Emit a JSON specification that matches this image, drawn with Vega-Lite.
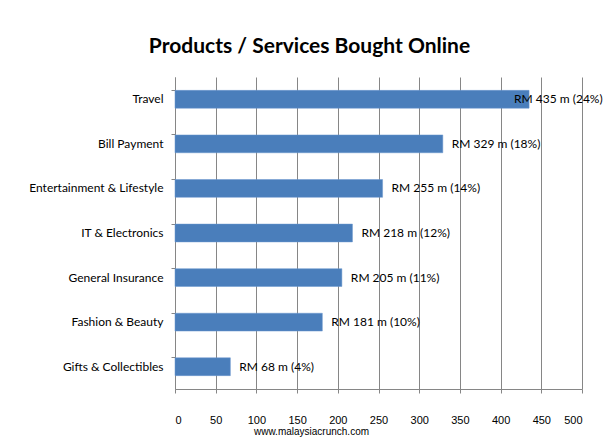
{
  "$schema": "https://vega.github.io/schema/vega-lite/v6.json",
  "width": 407,
  "height": 312,
  "autosize": {"type": "none"},
  "padding": {"left": 175, "top": 77, "right": 25, "bottom": 50},
  "background": "white",
  "title": {
    "text": "Products / Services Bought Online",
    "anchor": "middle",
    "frame": "group",
    "dx": -69,
    "offset": 20,
    "font": "Lato",
    "fontSize": 21,
    "fontWeight": "bold",
    "color": "#000000"
  },
  "data": {
    "values": [
      {"category": "Travel", "value": 435, "label": "RM 435 m (24%)"},
      {"category": "Bill Payment", "value": 329, "label": "RM 329 m (18%)"},
      {"category": "Entertainment & Lifestyle", "value": 255, "label": "RM 255 m (14%)"},
      {"category": "IT & Electronics", "value": 218, "label": "RM 218 m (12%)"},
      {"category": "General Insurance", "value": 205, "label": "RM 205 m (11%)"},
      {"category": "Fashion & Beauty", "value": 181, "label": "RM 181 m (10%)"},
      {"category": "Gifts & Collectibles", "value": 68, "label": "RM 68 m (4%)"}
    ]
  },
  "encoding": {
    "y": {
      "field": "category",
      "type": "nominal",
      "sort": null,
      "scale": {"paddingInner": 0.6, "paddingOuter": 0.3},
      "axis": {
        "title": null,
        "bandPosition": 0,
        "tickSize": 4,
        "tickColor": "#868686",
        "domainColor": "#868686",
        "labelPadding": 8,
        "labelFont": "Lato",
        "labelFontSize": 12,
        "labelColor": "#000000",
        "grid": false
      }
    },
    "x": {
      "field": "value",
      "type": "quantitative",
      "scale": {"domain": [0, 500], "nice": false},
      "axis": {
        "values": [0, 50, 100, 150, 200, 250, 300, 350, 400, 450, 500],
        "title": "www.malaysiacrunch.com",
        "titleX": 136,
        "titleY": 45,
        "titleBaseline": "alphabetic",
        "titleFont": "Liberation Sans",
        "titleFontSize": 10,
        "titleFontWeight": "normal",
        "titleColor": "#000000",
        "tickSize": 4,
        "tickColor": "#868686",
        "domainColor": "#868686",
        "grid": true,
        "gridColor": "#868686",
        "gridOpacity": 1,
        "labelPadding": 21,
        "labelFont": "Liberation Sans",
        "labelFontSize": 11,
        "labelColor": "#000000"
      }
    }
  },
  "layer": [
    {
      "mark": {"type": "bar", "color": "#4a7ebb", "stroke": "#6b97cf", "strokeWidth": 0.5}
    },
    {
      "transform": [{"filter": "datum.category !== 'Travel'"}],
      "mark": {"type": "text", "align": "left", "baseline": "middle", "dx": 9, "font": "Lato", "fontSize": 12, "color": "#000000"},
      "encoding": {"text": {"field": "label"}}
    },
    {
      "transform": [{"filter": "datum.category === 'Travel'"}],
      "mark": {"type": "text", "align": "left", "baseline": "middle", "dx": -15, "font": "Lato", "fontSize": 12, "color": "#000000"},
      "encoding": {"text": {"field": "label"}}
    }
  ],
  "config": {"view": {"stroke": null}}
}
